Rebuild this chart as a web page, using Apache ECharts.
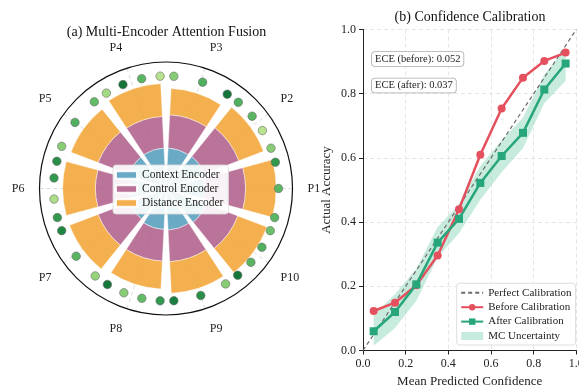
<!DOCTYPE html>
<html>
<head>
<meta charset="utf-8">
<script src="https://cdn.jsdelivr.net/npm/echarts@6/dist/echarts.min.js"></script>
<style>
  html, body { margin: 0; padding: 0; background: #fff; }
  #chart { width: 579px; height: 389px; }
</style>
</head>
<body>
<div id="chart"></div>
<script>
// (a) multi-encoder attention per position
var positions = ['P1', 'P2', 'P3', 'P4', 'P5', 'P6', 'P7', 'P8', 'P9', 'P10'];
var contextEnc = [0.375, 0.39, 0.385, 0.385, 0.38, 0.35, 0.37, 0.39, 0.395, 0.41];
var controlEnc = [0.38, 0.35, 0.315, 0.30, 0.31, 0.32, 0.32, 0.30, 0.30, 0.32];
var distanceEnc = [0.29, 0.25, 0.25, 0.31, 0.275, 0.31, 0.29, 0.265, 0.30, 0.295];

// outer ring of attention scores (angle in degrees, score 0..1)
var dotAngles = [0, 13.5, 21, 31, 40, 50, 57, 71, 86, 93, 102.5, 112.5, 122, 129.6, 144, 158, 166, 174.6,
  185.4, 195, 202, 217, 231, 238.6, 248, 257.6, 267, 274, 288, 302, 309.6, 319, 328.5, 338, 345];
var dotScores = [0.5, 0.7, 0.3, 0.1, 0.5, 0.55, 0.9, 0.55, 0.3, 0.1, 0.5, 0.9, 0.2, 0.45, 0.55, 0.3, 0.75, 0.7,
  0.15, 0.7, 0.8, 0.5, 0.25, 0.9, 0.3, 0.45, 0.7, 0.85, 0.75, 0.3, 0.9, 0.5, 0.55, 0.4, 0.5];
var dotRadius = 1.067;

// (b) calibration
var binCenters = [0.05, 0.15, 0.25, 0.35, 0.45, 0.55, 0.65, 0.75, 0.85, 0.95];
var accBefore = [0.123, 0.149, 0.203, 0.296, 0.44, 0.61, 0.754, 0.85, 0.902, 0.928];
var accAfter = [0.06, 0.12, 0.206, 0.336, 0.41, 0.522, 0.606, 0.678, 0.813, 0.894];
var mcLower = [0.015, 0.07, 0.155, 0.29, 0.365, 0.47, 0.555, 0.63, 0.77, 0.84];
var mcUpper = [0.11, 0.175, 0.255, 0.385, 0.455, 0.575, 0.655, 0.725, 0.86, 0.94];
var diagonal = [0, 1];
var eceBefore = 0.052;
var eceAfter = 0.037;

var serif = "'Liberation Serif', 'Times New Roman', serif";
var chart = echarts.init(document.getElementById('chart'));

function pairs(ys) {
    return binCenters.map(function (x, i) { return [x, ys[i]]; });
}

var hiddenRadius = {
    min: 0, max: 1.2,
    axisLine: { show: false }, axisTick: { show: false },
    axisLabel: { show: false }, splitLine: { show: false }
};

var option = {
    animation: false,
    textStyle: { fontFamily: serif },
    polar: [
        { center: [166, 188.5], radius: 126.5 },
        { center: [166, 188.5], radius: 126.5 }
    ],
    angleAxis: [
        {
            polarIndex: 0, type: 'category', data: positions,
            startAngle: -18, clockwise: false, z: 5,
            axisLine: { lineStyle: { color: '#111', width: 1.2 } },
            axisTick: { show: false },
            axisLabel: { margin: 15, color: '#222', fontSize: 12, fontFamily: serif },
            splitLine: { show: false }
        },
        {
            polarIndex: 1, type: 'value', min: 0, max: 360, interval: 36,
            startAngle: 0, clockwise: false,
            axisLine: { show: false }, axisTick: { show: false }, axisLabel: { show: false },
            splitLine: { show: true, lineStyle: { color: '#d2d2d2', type: [4, 3], width: 0.8 } }
        }
    ],
    radiusAxis: [
        Object.assign({ polarIndex: 0 }, hiddenRadius),
        Object.assign({ polarIndex: 1 }, hiddenRadius)
    ],
    grid: { left: 363, top: 29.5, right: 2.7, bottom: 38.5, outerBoundsMode: 'none', containLabel: false },
    xAxis: {
        type: 'value', min: 0, max: 1, interval: 0.2,
        name: 'Mean Predicted Confidence', nameLocation: 'middle', nameGap: 25,
        nameTextStyle: { fontSize: 13, color: '#222', fontFamily: serif },
        axisLine: { lineStyle: { color: '#222', width: 1 } },
        axisTick: { length: 4, lineStyle: { color: '#222' } },
        axisLabel: { margin: 7, fontSize: 12, color: '#222', fontFamily: serif, hideOverlap: false,
            formatter: function (v) { return v.toFixed(1); } },
        splitLine: { show: true, lineStyle: { color: '#dedede', type: [4, 3], width: 0.8 } }
    },
    yAxis: {
        type: 'value', min: 0, max: 1, interval: 0.2,
        name: 'Actual Accuracy', nameLocation: 'middle', nameGap: 30,
        nameTextStyle: { fontSize: 13, color: '#222', fontFamily: serif },
        axisLine: { show: true, lineStyle: { color: '#222', width: 1 } },
        axisTick: { show: true, length: 4, lineStyle: { color: '#222' } },
        axisLabel: { margin: 7, fontSize: 12, color: '#222', fontFamily: serif,
            formatter: function (v) { return v.toFixed(1); } },
        splitLine: { show: true, lineStyle: { color: '#dedede', type: [4, 3], width: 0.8 } }
    },
    visualMap: {
        type: 'continuous', show: false, seriesIndex: 3, dimension: 2, min: 0, max: 1,
        inRange: { color: ['#cbea9c', '#a3d982', '#6cc06a', '#45aa58', '#1f8642', '#0a6632'] }
    },
    legend: [
        {
            data: ['Context Encoder', 'Control Encoder', 'Distance Encoder'],
            orient: 'vertical', left: 113, top: 165, icon: 'rect',
            itemWidth: 21, itemHeight: 7.5, itemGap: 2,
            padding: [4, 5, 5, 2],
            backgroundColor: 'rgba(255,255,255,0.9)', borderColor: '#dcdcdc', borderWidth: 0.8, borderRadius: 3,
            textStyle: { fontSize: 11.5, lineHeight: 12, color: '#222', fontFamily: serif }
        },
        {
            data: [
                { name: 'Perfect Calibration', itemStyle: { opacity: 0 } },
                { name: 'Before Calibration' },
                { name: 'After Calibration' },
                { name: 'MC Uncertainty', icon: 'rect' }
            ],
            orient: 'vertical', left: 456.7, top: 283.3,
            itemWidth: 22, itemHeight: 8, itemGap: 2.4,
            padding: [3.5, 4, 3, 3.5],
            backgroundColor: 'rgba(255,255,255,0.85)', borderColor: '#d6d6d6', borderWidth: 0.8, borderRadius: 3,
            textStyle: { fontSize: 11, lineHeight: 12, color: '#222', fontFamily: serif }
        }
    ],
    graphic: [
        { type: 'text', x: 166.5, y: 32, style: { text: '(a) Multi-Encoder Attention Fusion',
            font: '14px ' + serif, fill: '#111', align: 'center', verticalAlign: 'middle' } },
        { type: 'text', x: 470, y: 17, style: { text: '(b) Confidence Calibration',
            font: '14px ' + serif, fill: '#111', align: 'center', verticalAlign: 'middle' } },
        { type: 'text', x: 372, y: 52, z: 10, style: { text: 'ECE (before): ' + eceBefore.toFixed(3),
            font: '10.5px ' + serif, fill: '#222', backgroundColor: '#fff', borderColor: '#aaa',
            borderWidth: 0.8, borderRadius: 3, padding: [1.5, 3, 1.5, 3] } },
        { type: 'text', x: 372, y: 78.5, z: 10, style: { text: 'ECE (after): ' + eceAfter.toFixed(3),
            font: '10.5px ' + serif, fill: '#222', backgroundColor: '#fff', borderColor: '#aaa',
            borderWidth: 0.8, borderRadius: 3, padding: [1.5, 3, 1.5, 3] } }
    ],
    series: [
        {
            name: 'Context Encoder', type: 'bar', coordinateSystem: 'polar', polarIndex: 0,
            stack: 'enc', barCategoryGap: '16%', data: contextEnc,
            itemStyle: { color: '#569ebd', opacity: 0.88, borderColor: '#fff', borderWidth: 0.5 }
        },
        {
            name: 'Control Encoder', type: 'bar', coordinateSystem: 'polar', polarIndex: 0,
            stack: 'enc', barCategoryGap: '16%', data: controlEnc,
            itemStyle: { color: '#b0608b', opacity: 0.88, borderColor: '#fff', borderWidth: 0.5 }
        },
        {
            name: 'Distance Encoder', type: 'bar', coordinateSystem: 'polar', polarIndex: 0,
            stack: 'enc', barCategoryGap: '16%', data: distanceEnc,
            itemStyle: { color: '#f2a536', opacity: 0.88, borderColor: '#fff', borderWidth: 0.5 }
        },
        {
            name: 'scores', type: 'scatter', coordinateSystem: 'polar', polarIndex: 1,
            symbolSize: 8.5,
            data: dotAngles.map(function (a, i) { return [dotRadius, a, dotScores[i]]; }),
            itemStyle: { borderColor: '#6c6c6c', borderWidth: 0.6, opacity: 1 }
        },
        {
            name: 'MC Uncertainty', type: 'custom', xAxisIndex: 0, yAxisIndex: 0, z: 1,
            data: binCenters.map(function (x, i) { return [x, mcLower[i], mcUpper[i]]; }),
            encode: { x: 0, y: [1, 2] },
            itemStyle: { color: '#c7ebdd' },
            renderItem: function (params, api) {
                if (params.dataIndex !== 0) return null;
                var pts = [];
                for (var i = 0; i < binCenters.length; i++) pts.push(api.coord([binCenters[i], mcUpper[i]]));
                for (var j = binCenters.length - 1; j >= 0; j--) pts.push(api.coord([binCenters[j], mcLower[j]]));
                return { type: 'polygon', shape: { points: pts }, style: { fill: 'rgba(130,210,180,0.45)' } };
            }
        },
        {
            name: 'Perfect Calibration', type: 'line', symbol: 'none',
            data: diagonal.map(function (v) { return [v, v]; }),
            lineStyle: { color: '#6b6b6b', type: [4, 3], width: 1.2 },
            itemStyle: { color: '#6b6b6b' }
        },
        {
            name: 'Before Calibration', type: 'line', symbol: 'circle', symbolSize: 8,
            data: pairs(accBefore),
            lineStyle: { color: '#e5505f', width: 2.5 },
            itemStyle: { color: '#e5505f' }
        },
        {
            name: 'After Calibration', type: 'line', symbol: 'rect', symbolSize: 8,
            data: pairs(accAfter),
            lineStyle: { color: '#27a57b', width: 2.5 },
            itemStyle: { color: '#27a57b' }
        }
    ]
};

chart.setOption(option);
</script>
</body>
</html>
